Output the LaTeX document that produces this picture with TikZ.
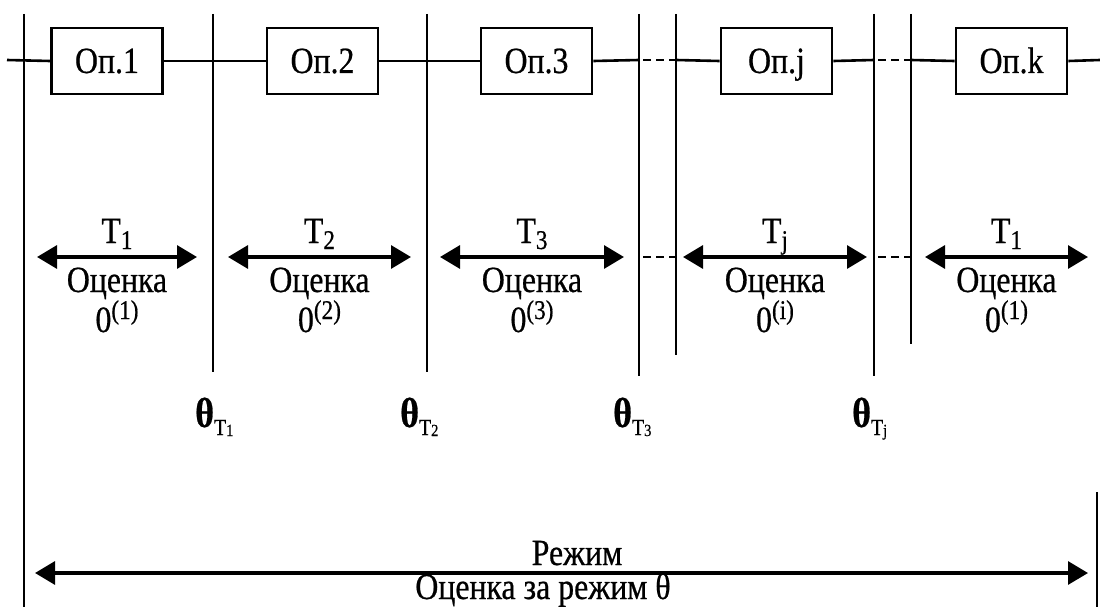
\documentclass[tikz,border=0pt]{standalone}
\usepackage{fontspec}
\setmainfont{Liberation Serif}[FakeStretch=0.86,FakeBold=0.6]
\usetikzlibrary{arrows.meta}

\begin{document}
\begin{tikzpicture}[x=1pt,y=-1pt,
  vline/.style={line width=2.2pt},
  hline/.style={line width=2.6pt},
  gapline/.style={line width=2.2pt, dash pattern=on 8pt off 5pt, dash phase=-4pt},
  opbox/.style={draw, line width=2.8pt, minimum width=111pt, minimum height=66pt,
    inner sep=0pt, text height=24pt, text depth=0pt, font=\fontsize{37}{40}\selectfont},
  spanarrow/.style={line width=3.2pt,
    {Triangle[length=20pt,width=23pt]}-{Triangle[length=20pt,width=23pt]}},
  txt/.style={anchor=base, inner sep=0pt, font=\fontsize{37}{40}\selectfont},
  thetalab/.style={anchor=base west, inner sep=0pt, font=\fontsize{42}{44}\selectfont\bfseries},
]
\useasboundingbox (0,0) rectangle (1100,607);

% vertical boundaries between operations
\foreach \n/\x/\b in {1/24/607, 2/213/372, 3/427/372, 4/639/376, 5/676/355, 6/874/376, 7/911/344} {
  \coordinate (v\n t) at (\x,14);
  \coordinate (v\n m) at (\x,60);
  \coordinate (v\n a) at (\x,257);
  \coordinate (v\n b) at (\x,\b);
  \draw[vline] (v\n t) -- (v\n b);
}

% operation boxes
\node[opbox] (b1) at (107,61) {Оп.1};
\node[opbox] (b2) at (322.5,61) {Оп.2};
\node[opbox] (b3) at (536.5,61) {Оп.3};
\node[opbox] (bj) at (776.5,61) {Оп.j};
\node[opbox] (bk) at (1011.5,61) {Оп.k};

% line of operations
\coordinate (lstart) at (7,60);
\coordinate (lend) at (1100,60);
\draw[hline] (lstart) -- (b1.west);
\draw[hline] (b1.east) -- (b2.west);
\draw[hline] (b2.east) -- (b3.west);
\draw[hline] (b3.east) -- (v4m);
\draw[gapline] (v4m) -- (v5m);
\draw[hline] (v5m) -- (bj.west);
\draw[hline] (bj.east) -- (v6m);
\draw[gapline] (v6m) -- (v7m);
\draw[hline] (v7m) -- (bk.west);
\draw[hline] (bk.east) -- (lend);

% durations of operations
\foreach \n/\l/\r/\t/\s in {1/37/197/1/1, 2/228/411/2/2, 3/440/624/3/3, j/683/867/j/i, k/925/1088/1/1} {
  \coordinate (a\n l) at (\l,257);
  \coordinate (a\n r) at (\r,257);
  \draw[spanarrow] (a\n l) -- (a\n r);
  \node[txt] (t\n) at ({(\l+\r)/2},243) {T\raisebox{-6pt}{\fontsize{27}{28}\selectfont\t}};
  \node[txt] (o\n) at ({(\l+\r)/2},292) {Оценка};
  \node[txt] (e\n) at ({(\l+\r)/2},332) {0\raisebox{13pt}{\fontsize{27}{28}\selectfont(\s)}};
}
\draw[gapline] (v4a) -- (v5a);
\draw[gapline] (v6a) -- (v7a);

% estimates at the boundaries
\node[thetalab] (th1) at (195,427) {θ\raisebox{-8pt}{\fontsize{23}{24}\mdseries T\raisebox{-1pt}{\fontsize{17}{17}\selectfont 1}}};
\node[thetalab] (th2) at (400,427) {θ\raisebox{-8pt}{\fontsize{23}{24}\mdseries T\raisebox{-1pt}{\fontsize{17}{17}\selectfont 2}}};
\node[thetalab] (th3) at (613,427) {θ\raisebox{-8pt}{\fontsize{23}{24}\mdseries T\raisebox{-1pt}{\fontsize{17}{17}\selectfont 3}}};
\node[thetalab] (thj) at (852,427) {θ\raisebox{-8pt}{\fontsize{23}{24}\mdseries T\raisebox{-1pt}{\fontsize{17}{17}\selectfont j}}};

% whole mode
\coordinate (ml) at (35,573);
\coordinate (mr) at (1088,573);
\draw[spanarrow] (ml) -- (mr);
\node[txt] (mode) at (577,565) {Режим};
\node[txt] (modeest) at (543,599) {Оценка за режим θ};

% right margin rule
\coordinate (rt) at (1097,492);
\coordinate (rb) at (1097,607);
\draw[line width=1.4pt] (rt) -- (rb);
\end{tikzpicture}
\end{document}
